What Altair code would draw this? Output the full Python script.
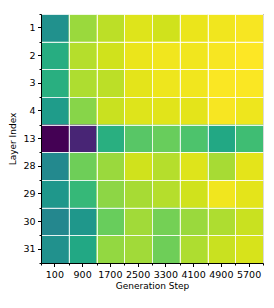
import altair as alt
import pandas as pd

layers = ["1", "2", "3", "4", "13", "28", "29", "30", "31"]
steps = ["100", "900", "1700", "2500", "3300", "4100", "4900", "5700"]
values = [
    [0.50, 0.85, 0.90, 0.95, 0.93, 0.97, 0.98, 0.99],
    [0.62, 0.89, 0.93, 0.97, 0.98, 0.98, 0.99, 1.00],
    [0.63, 0.88, 0.90, 0.96, 0.975, 0.98, 0.995, 0.995],
    [0.55, 0.82, 0.92, 0.95, 0.955, 0.96, 0.99, 0.975],
    [0.00, 0.10, 0.63, 0.74, 0.77, 0.72, 0.60, 0.69],
    [0.47, 0.78, 0.85, 0.93, 0.89, 0.95, 0.87, 0.96],
    [0.53, 0.67, 0.83, 0.87, 0.89, 0.93, 0.98, 0.96],
    [0.46, 0.53, 0.77, 0.86, 0.79, 0.85, 0.88, 0.92],
    [0.50, 0.60, 0.84, 0.86, 0.78, 0.88, 0.92, 0.94],
]

rows = []
for i, layer in enumerate(layers):
    for j, step in enumerate(steps):
        rows.append({"layer": layer, "step": step, "v": values[i][j]})
df = pd.DataFrame(rows)

font = "DejaVu Sans"
common = dict(labelFontSize=9.5, titleFontSize=9, labelColor="black", titleColor="black",
              titleFontWeight="normal", labelFont=font, titleFont=font)

xscale = alt.Scale(paddingInner=0, paddingOuter=0)
yscale = alt.Scale(paddingInner=0, paddingOuter=0)

heat = alt.Chart(df).mark_rect().encode(
    x=alt.X("step:O", sort=steps, title="Generation Step", scale=xscale,
            axis=alt.Axis(orient="bottom", labelAngle=0, grid=False, tickSize=3.5,
                          tickColor="black", domainColor="black", labelPadding=2.5,
                          titlePadding=3, zindex=2, **common)),
    y=alt.Y("layer:O", sort=layers, title="Layer Index", scale=yscale,
            axis=alt.Axis(orient="left", grid=False, tickSize=3.5, tickColor="black",
                          domainColor="black", labelPadding=2.5, titlePadding=5,
                          zindex=2, **common)),
    color=alt.Color("v:Q", scale=alt.Scale(scheme="viridis", domain=[0, 1]), legend=None),
)

minor = alt.Chart(df).mark_rect(opacity=0).encode(
    x=alt.X("step:O", sort=steps, title=None, scale=xscale,
            axis=alt.Axis(orient="bottom", labels=False, domain=False, tickBand="extent",
                          tickSize=2, tickColor="black", grid=True, gridColor="white",
                          gridOpacity=0.85, gridWidth=1, zindex=1)),
    y=alt.Y("layer:O", sort=layers, title=None, scale=yscale,
            axis=alt.Axis(orient="left", labels=False, domain=False, tickBand="extent",
                          tickSize=2, tickColor="black", grid=True, gridColor="white",
                          gridOpacity=0.85, gridWidth=1, zindex=1)),
)

chart = alt.layer(heat, minor).resolve_axis(x="independent", y="independent").properties(
    width=222, height=249,
    autosize=alt.AutoSizeParams(type="none"),
    padding={"left": 33, "top": 6, "right": 3, "bottom": 37},
).configure_view(stroke="black", strokeWidth=1)

chart.save("out.html", embed_options={"renderer": "svg", "actions": False})
